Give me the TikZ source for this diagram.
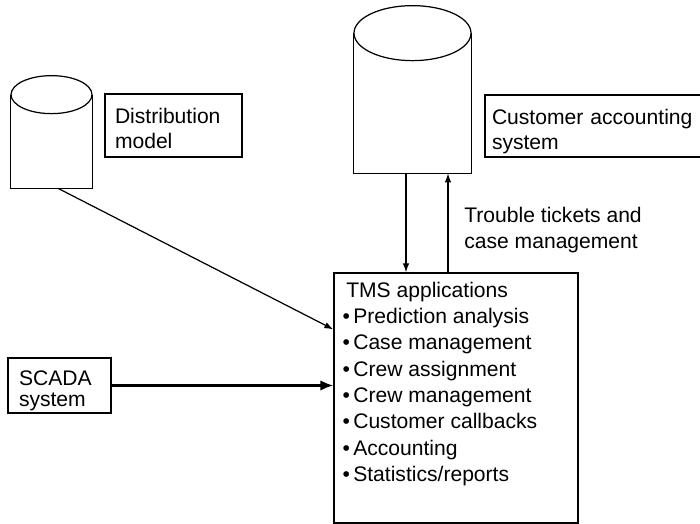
\documentclass[tikz,border=0pt]{standalone}
\usepackage{fontspec}
\setmainfont{Liberation Sans}
\usetikzlibrary{arrows.meta,positioning}

\newcommand{\itembullet}{•\kern1.8pt}

\begin{document}
\begin{tikzpicture}[
        box/.style={draw=black, line width=0.7pt, inner xsep=0.2cm, inner ysep=0pt, align=left},
        db/.style={minimum size=0pt, inner sep=0pt},
        flow/.style={line width=0.7pt, -{Latex[length=1.8mm, width=1.3mm]}},
        bigflow/.style={line width=1.3pt, -{Latex[length=2.6mm, width=2.1mm]}},
        font=\fontsize{12}{15}\selectfont
    ]
        \useasboundingbox (0,0) rectangle (14,10.48);
        \clip (0,0) rectangle (14,10.48);

        % Databases
        \node[db, minimum width=1.62cm, minimum height=1.86cm] (distdb) at (1.03, 7.65) {};
        \draw[line width=0.7pt] (distdb.north west) -- (distdb.south west) -- (distdb.south east) -- (distdb.north east);
        \draw[line width=0.7pt] (distdb.north) ellipse (0.81 and 0.38);

        \node[db, minimum width=2.34cm, minimum height=2.79cm] (custdb) at (8.25, 8.415) {};
        \draw[line width=0.7pt] (custdb.north west) -- (custdb.south west) -- (custdb.south east) -- (custdb.north east);
        \draw[line width=0.7pt] (custdb.north) ellipse (1.17 and 0.55);

        % Boxes
        \node[box, minimum width=2.74cm, minimum height=1.26cm, text width=2.34cm,
              font=\fontsize{12}{14.2}\selectfont] (distbox) at (3.47, 7.97) {\rule{0pt}{0.44cm}Distribution\\model};
        \node[box, minimum width=4.6cm, minimum height=1.24cm, text width=4.32cm, inner xsep=0.14cm,
              font=\fontsize{12}{14.2}\selectfont] (custbox) at (12.0, 7.96) {\rule{0pt}{0.44cm}Customer accounting\\\smash{system}};
        \node[box, minimum width=2.06cm, minimum height=1.10cm, text width=1.62cm, inner xsep=0.22cm,
              font=\fontsize{12}{11.6}\selectfont] (scada) at (1.19, 2.77) {\rule{0pt}{0.5cm}SCADA\\system};
        \node[box, minimum width=4.88cm, minimum height=5.0cm] (tms) at (9.12, 2.52) {};
        \node[anchor=north west, inner sep=0pt, align=left] (tmslist) at ([xshift=0.18cm, yshift=-0.18cm]tms.north west) {\,TMS applications\\
            \itembullet Prediction analysis\\
            \itembullet Case management\\
            \itembullet Crew assignment\\
            \itembullet Crew management\\
            \itembullet Customer callbacks\\
            \itembullet Accounting\\
            \itembullet Statistics/reports};

        % Label
        \node[anchor=north west, inner sep=0pt, align=left] (tickets) at (9.28, 6.34) {Trouble tickets and\\case management};

        % Edges
        \draw[flow] ([xshift=0.13cm]distdb.south) -- ([yshift=-1.14cm]tms.north west);
        \draw[bigflow] (scada.east) -- (scada.east -| tms.west);
        \draw[flow] ([xshift=-0.13cm]custdb.south) -- ([xshift=-0.13cm]custdb.south |- tms.north);
        \draw[flow] ([xshift=0.71cm]custdb.south |- tms.north) -- ([xshift=0.71cm]custdb.south);

    \end{tikzpicture}
\end{document}
